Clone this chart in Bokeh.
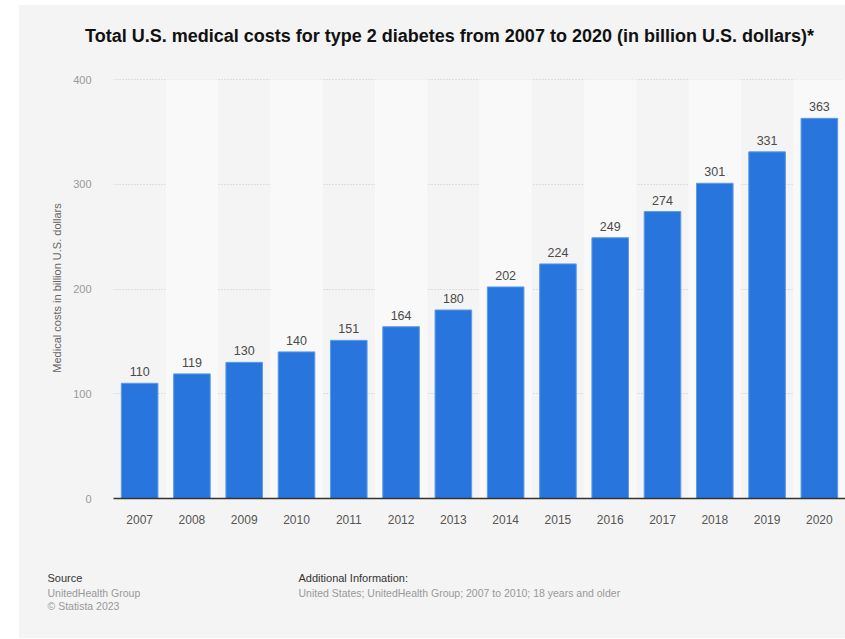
from bokeh.plotting import figure
from bokeh.models import FactorRange, Range1d, ColumnDataSource
from bokeh.layouts import column
from bokeh.core.properties import value
from bokeh.embed import file_html
from bokeh.resources import INLINE

# Total U.S. medical costs for type 2 diabetes, billion U.S. dollars
years = ["2007", "2008", "2009", "2010", "2011", "2012", "2013",
         "2014", "2015", "2016", "2017", "2018", "2019", "2020"]
costs = [110, 119, 130, 140, 151, 164, 180, 202, 224, 249, 274, 301, 331, 363]
y_ticks = [0, 100, 200, 300, 400]

title_text = "Total U.S. medical costs for type 2 diabetes from 2007 to 2020 (in billion U.S. dollars)*"
y_label = "Medical costs in billion U.S. dollars"
source_lines = ["Source", "UnitedHealth Group", "\u00a9 Statista 2023"]
info_lines = ["Additional Information:",
              "United States; UnitedHealth Group; 2007 to 2010; 18 years and older"]

FONT = "Liberation Sans"
BAR = "#2876dd"
PANEL = "#f4f4f4"

W = 826
HEAD_H, MAIN_H, FOOT_H = 62, 481, 90
Y_TOP = 402        # a little headroom so the 400 gridline is drawn inside the frame
BAND_TOP = 400


def text_panel(height):
    """A bare figure whose data units are pixels, used for free text."""
    f = figure(width=W, height=height, x_range=Range1d(0, W), y_range=Range1d(0, height),
               output_backend="svg", toolbar_location=None, frame_align=False,
               min_border=0, background_fill_color=PANEL, border_fill_color=PANEL,
               outline_line_color=None)
    f.axis.visible = False
    f.grid.visible = False
    return f


def put(f, text, x, y, size, color, bold=False, align="left"):
    f.text(x=[x], y=[f.height - y], text=[text], text_font=value(FONT),
           text_font_size=size, text_color=color, text_align=align,
           text_baseline="middle", text_font_style="bold" if bold else "normal")


# header with the title
head = text_panel(HEAD_H)
put(head, title_text, 430, 30, "18px", "#111111", bold=True, align="center")

# main bar chart
p = figure(x_range=FactorRange(factors=years), y_range=Range1d(0, Y_TOP),
           width=W, height=MAIN_H, output_backend="svg", toolbar_location=None,
           frame_align=False,
           min_border_left=94, min_border_right=0,
           min_border_top=10, min_border_bottom=50,
           background_fill_color=PANEL, border_fill_color=PANEL,
           outline_line_color=None)

# alternating column shading
band_years = years[1::2]
p.vbar(x=band_years, top=BAND_TOP, bottom=0, width=1.0,
       fill_color="#f9f9f9", line_color=None)

src = ColumnDataSource(dict(year=years, cost=costs, label=[str(c) for c in costs]))
p.vbar(x="year", top="cost", width=0.7, source=src,
       fill_color=BAR, line_color="#5d9be8", line_width=1)
p.text(x="year", y="cost", text="label", source=src,
       text_align="center", text_baseline="bottom", y_offset=-7,
       text_font=value(FONT), text_font_size="12.5px", text_color="#4a4a4a")

p.xgrid.grid_line_color = None
p.ygrid.grid_line_color = "#c8c8c8"
p.ygrid.grid_line_dash = "1 2"
p.ygrid.grid_line_width = 1
p.yaxis.ticker = y_ticks
p.yaxis.axis_line_color = None
p.yaxis.major_tick_line_color = None
p.yaxis.minor_tick_line_color = None
p.yaxis.major_label_text_font = FONT
p.yaxis.major_label_text_font_size = "11px"
p.yaxis.major_label_text_color = "#999999"
p.yaxis.major_label_standoff = 16
p.yaxis.axis_label = y_label
p.yaxis.axis_label_text_font = FONT
p.yaxis.axis_label_text_font_size = "11px"
p.yaxis.axis_label_text_font_style = "normal"
p.yaxis.axis_label_text_color = "#666666"
p.yaxis.axis_label_standoff = 7

p.xaxis.axis_line_color = "#333333"
p.xaxis.axis_line_width = 1.5
p.xaxis.major_tick_line_color = None
p.xaxis.minor_tick_line_color = None
p.xaxis.major_label_text_font = FONT
p.xaxis.major_label_text_font_size = "12px"
p.xaxis.major_label_text_color = "#555555"
p.xaxis.major_label_standoff = 10

# footer with source notes
foot = text_panel(FOOT_H)
put(foot, source_lines[0], 28, 29, "11px", "#333333")
put(foot, source_lines[1], 28, 44, "10.5px", "#999999")
put(foot, source_lines[2], 28, 57, "10.5px", "#999999")
put(foot, info_lines[0], 279, 29, "11px", "#333333")
put(foot, info_lines[1], 279, 44, "10.5px", "#999999")

layout = column(head, p, foot, spacing=0, margin=(5, 0, 0, 19),
                styles={"background-color": PANEL})
open("out.html", "w").write(file_html(layout, INLINE))
